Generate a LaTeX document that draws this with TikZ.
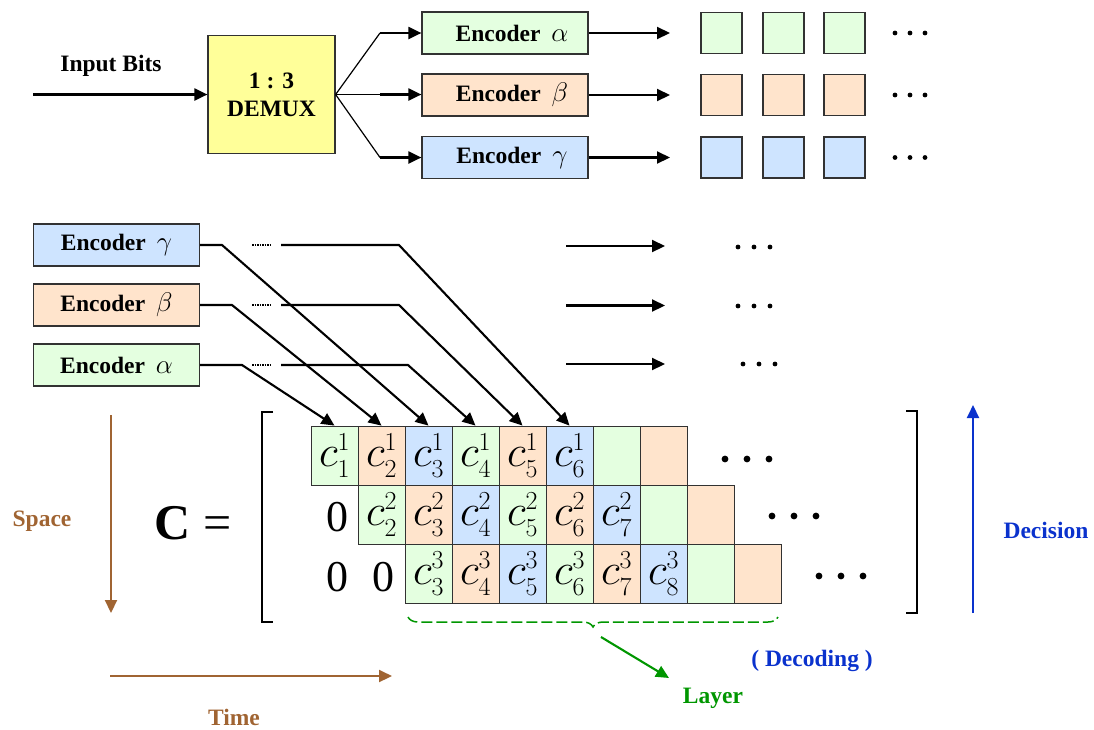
\RequirePackage{fix-cm}
\documentclass[tikz,border=0pt]{standalone}
\usepackage{fontspec}
\setmainfont{Liberation Serif}
\usetikzlibrary{arrows.meta,decorations.pathreplacing}
\DeclareMathSizes{44}{44}{26}{20}
\definecolor{cc0}{RGB}{228,255,224}
\definecolor{cc1}{RGB}{255,228,204}
\definecolor{cc2}{RGB}{206,228,255}
\definecolor{demuxy}{RGB}{255,255,153}
\definecolor{brn}{RGB}{160,100,50}
\definecolor{dblue}{RGB}{10,50,205}
\definecolor{dgreen}{RGB}{0,150,0}
\definecolor{edge}{RGB}{50,50,50}
\newcommand\enc[1]{Encoder\hspace{11pt}{\fontsize{27}{27}\selectfont$#1$}}
\begin{document}
\begin{tikzpicture}[x=1pt,y=-1pt,
  lbl/.style={font=\fontsize{23.5}{28}\selectfont\bfseries},
  encbox/.style={draw=edge, line width=1.2pt, minimum width=166pt, minimum height=42pt, inner sep=0pt, lbl},
  sqbox/.style={draw=edge, line width=1.2pt, minimum width=41pt, minimum height=41pt, inner sep=0pt},
  cell/.style={draw=edge, line width=0.8pt, minimum width=47pt, minimum height=59pt, inner sep=0pt, font=\fontsize{44}{44}\selectfont},
  arr/.style={line width=2.1pt, -{Triangle[length=13pt,width=12pt]}},
  fan/.style={line width=1.2pt},
  brk/.style={line width=1.8pt},
  bigtxt/.style={font=\fontsize{44}{44}\selectfont, inner sep=0pt}
]
\useasboundingbox (0,0) rectangle (1094,729);

% ---------- top part ----------
\node[lbl] (inbits) at (111,66) {Input Bits};
\node[draw=edge, line width=1.2pt, fill=demuxy, minimum width=127pt, minimum height=118pt, inner sep=0pt, lbl, align=center] (demux) at (271.5,94.5) {1 : 3\\DEMUX};
\coordinate (inS) at (33,94.5);
\draw[arr] (inS) -- (demux.west);

\node[encbox, fill=cc0] (encA) at (505,33) {\hspace*{14pt}\enc{\alpha}};
\node[encbox, fill=cc1] (encB) at (505,95) {\hspace*{14pt}\enc{\beta}};
\node[encbox, fill=cc2] (encG) at (505,157.5) {\hspace*{14pt}\enc{\gamma}};

\coordinate (fanA) at (380,33);
\coordinate (fanB) at (380,94.5);
\coordinate (fanG) at (380,157.5);
\draw[fan] (demux.east) -- (fanA);
\draw[fan] (demux.east) -- (fanB);
\draw[fan] (demux.east) -- (fanG);
\draw[arr] (fanA) -- (encA.west);
\draw[arr] (fanB) -- (encB.west |- fanB);
\draw[arr] (fanG) -- (encG.west);

\coordinate (tA) at (670,33);
\coordinate (tB) at (670,95);
\coordinate (tG) at (670,157.5);
\draw[arr] (encA.east) -- (tA);
\draw[arr] (encB.east) -- (tB);
\draw[arr] (encG.east) -- (tG);

\foreach \y/\c/\n in {33/cc0/A,95/cc1/B,157.5/cc2/G}{
  \node[sqbox, fill=\c] (sq\n1) at (721.5,\y) {};
  \node[sqbox, fill=\c] (sq\n2) at (783.5,\y) {};
  \node[sqbox, fill=\c] (sq\n3) at (844.5,\y) {};
  \foreach \x in {895,910,925} \fill (\x,\y) circle[radius=2.4pt];
}

% ---------- middle part ----------
\node[encbox, fill=cc2] (mG) at (116.5,245) {\enc{\gamma}};
\node[encbox, fill=cc1] (mB) at (116.5,305) {\enc{\beta}};
\node[encbox, fill=cc0] (mA) at (116.5,365) {\enc{\alpha}};

% matrix cells
\foreach \r/\xs in {1/334.5,2/381.5,3/428.5}{
  \foreach \i in {1,...,8}{
    \pgfmathtruncatemacro{\j}{\i+\r-1}
    \pgfmathtruncatemacro{\k}{mod(\i-1,3)}
    \pgfmathsetmacro{\cx}{\xs+47*(\i-1)}
    \pgfmathsetmacro{\cy}{455.5+59*(\r-1)}
    \ifnum\i<7
      \node[cell, fill=cc\k] (r\r c\i) at (\cx,\cy) {$c^{\r}_{\j}$};
    \else
      \node[cell, fill=cc\k] (r\r c\i) at (\cx,\cy) {};
    \fi
  }
}

% connectors from encoders to matrix
\draw[arr] (mG.east) -- (222,245) -- (r1c3.north);
\draw[arr] (mB.east) -- (232,305) -- (r1c2.north);
\draw[arr] (mA.east) -- (242,365) -- (r1c1.north);
\coordinate (sG) at (281,245);
\coordinate (sB) at (281,305);
\coordinate (sA) at (281,365);
\draw[arr] (sG) -- (399,245) -- (r1c6.north);
\draw[arr] (sB) -- (399,305) -- (r1c5.north);
\draw[arr] (sA) -- (408,365) -- (r1c4.north);
\foreach \y in {245,305,365}
  \draw[line width=2pt, dash pattern=on 1.5pt off 1pt] (252,\y) -- (271,\y);

\coordinate (rG1) at (566,246); \coordinate (rG2) at (665,246);
\coordinate (rB1) at (566,305.5); \coordinate (rB2) at (665,305.5);
\coordinate (rA1) at (566,364); \coordinate (rA2) at (665,364);
\draw[arr] (rG1) -- (rG2);
\draw[arr] (rB1) -- (rB2);
\draw[arr] (rA1) -- (rA2);
\foreach \x/\y in {738/247,754/247,770/247,738/306,754/306,770/306,743/364,759/364,775/364}
  \fill (\x,\y) circle[radius=2.4pt];

% ---------- matrix ----------
\node[font=\fontsize{50}{50}\selectfont, inner sep=0pt] (Ceq) at (193,523) {\textbf{C} =};
\draw[brk] (273,412) -- (262,412) -- (262,622) -- (273,622);
\draw[brk] (906,411) -- (917,411) -- (917,613) -- (906,613);
\node[bigtxt] (z21) at (337,517) {0};
\node[bigtxt] (z31) at (337,577) {0};
\node[bigtxt] (z32) at (383,577) {0};
\foreach \x/\y in {725/459,747/459,769/459,772/516,794/516,816/516,819/576,841/576,863/576}
  \fill (\x,\y) circle[radius=3.4pt];

% brace and layer
\draw[dgreen, line width=1.5pt, dash pattern=on 11pt off 4pt, decorate, decoration={brace, mirror, amplitude=10pt}] (408,617) -- (778,617);
\coordinate (lay1) at (601,637);
\coordinate (lay2) at (669,678);
\draw[arr, dgreen] (lay1) -- (lay2);
\node[lbl, text=dgreen] (layer) at (713,698) {Layer};
\node[lbl, text=dblue] (decoding) at (812,661) {( Decoding )};

% axes
\coordinate (sp1) at (111,415); \coordinate (sp2) at (111,613);
\draw[arr, brn] (sp1) -- (sp2);
\node[lbl, text=brn] (space) at (42,521) {Space};
\coordinate (tm1) at (110,676); \coordinate (tm2) at (392,676);
\draw[arr, brn] (tm1) -- (tm2);
\node[lbl, text=brn] (time) at (234,717) {Time};
\coordinate (dc1) at (973,613); \coordinate (dc2) at (973,405);
\draw[arr, dblue] (dc1) -- (dc2);
\node[lbl, text=dblue] (decision) at (1046,530) {Decision};
\end{tikzpicture}
\end{document}
